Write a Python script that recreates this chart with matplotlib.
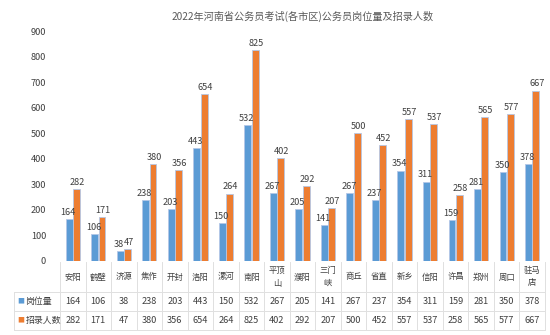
#!/usr/bin/env python3
# -*- coding: utf-8 -*-
"""2022年河南省公务员考试 各市区 岗位量 / 招录人数 (Excel 风格 + 数据表)"""

import numpy as np
import matplotlib
matplotlib.use("Agg")
import matplotlib.pyplot as plt
from matplotlib.transforms import blended_transform_factory

plt.rcParams["font.family"] = ["Noto Sans CJK SC", "DejaVu Sans"]

cities = ["安阳", "鹤壁", "济源", "焦作", "开封", "洛阳", "漯河", "南阳", "平顶\n山", "濮阳",
          "三门\n峡", "商丘", "省直", "新乡", "信阳", "许昌", "郑州", "周口", "驻马\n店"]
posts = [164, 106, 38, 238, 203, 443, 150, 532, 267, 205, 141, 267, 237, 354, 311, 159, 281, 350, 378]
hires = [282, 171, 47, 380, 356, 654, 264, 825, 402, 292, 207, 500, 452, 557, 537, 258, 565, 577, 667]
series_names = ["岗位量", "招录人数"]
yticks = list(range(0, 1000, 100))

BLUE = "#5B9BD5"
ORANGE = "#ED7D31"
EDGE = "#B4C7E7"
TXT = "#404040"
GRID = "#E0E0E0"

W, H = 550, 335
fig = plt.figure(figsize=(W / 100, H / 100), dpi=100)
left_px, right_px, top_px, bot_px = 60, 545, 31, 261
ax = fig.add_axes([left_px / W, 1 - bot_px / H, (right_px - left_px) / W, (bot_px - top_px) / H])

x = np.arange(len(cities))
bw = 0.27
ax.bar(x - bw / 2 - 0.01, posts, bw, color=BLUE, edgecolor=EDGE, linewidth=0.6)
ax.bar(x + bw / 2 + 0.01, hires, bw, color=ORANGE, edgecolor=EDGE, linewidth=0.6)

for xi, v in zip(x, posts):
    ax.text(xi - bw / 2 - 0.05, v + 8, str(v), ha="center", va="bottom", fontsize=6.6, color=TXT)
for xi, v in zip(x, hires):
    ax.text(xi + bw / 2 + 0.05, v + 8, str(v), ha="center", va="bottom", fontsize=6.6, color=TXT)

ax.set_xlim(-0.5, len(cities) - 0.5)
ax.set_ylim(0, 900)
ax.set_yticks(yticks)
ax.set_yticklabels([str(t) for t in yticks], fontsize=6.6, color=TXT)
ax.tick_params(axis="y", length=0, pad=10)
ax.set_xticks([])
for s in ax.spines.values():
    s.set_visible(False)

ax.set_title("2022年河南省公务员考试(各市区)公务员岗位量及招录人数",
             fontsize=7.3, color="#595959", pad=8)

# 数据表
tr = blended_transform_factory(ax.transData, ax.transAxes)
ph = bot_px - top_px


def ay(p):
    return (bot_px - p) / ph


y_top, y_r1, y_r2, y_bot = ay(262), ay(292), ay(311), ay(330)
x_lab = -0.5 + (14 - left_px) / ((right_px - left_px) / len(cities))
xe = len(cities) - 0.5

for k in range(len(cities) + 1):
    ax.plot([k - 0.5, k - 0.5], [y_top, y_bot], color=GRID, lw=0.7, transform=tr, clip_on=False)
ax.plot([x_lab, x_lab], [y_r1, y_bot], color=GRID, lw=0.7, transform=tr, clip_on=False)
for yy in (y_r1, y_r2, y_bot):
    ax.plot([x_lab, xe], [yy, yy], color=GRID, lw=0.7, transform=tr, clip_on=False)

for xi, c in zip(x, cities):
    ax.text(xi, (y_top + y_r1) / 2, c, ha="center", va="center", fontsize=6,
            color=TXT, transform=tr, linespacing=1.5)
for xi, a, b in zip(x, posts, hires):
    ax.text(xi, (y_r1 + y_r2) / 2, str(a), ha="center", va="center", fontsize=6.6, color=TXT, transform=tr)
    ax.text(xi, (y_r2 + y_bot) / 2, str(b), ha="center", va="center", fontsize=6.6, color=TXT, transform=tr)

for yy, col, name in (((y_r1 + y_r2) / 2, BLUE, series_names[0]), ((y_r2 + y_bot) / 2, ORANGE, series_names[1])):
    ax.text(x_lab + 0.12, yy, "■", ha="left", va="center", fontsize=5, color=col, transform=tr)
    ax.text(x_lab + 0.45, yy, name, ha="left", va="center", fontsize=6.4, color=TXT, transform=tr)

fig.savefig("out.png", dpi=100, facecolor="white")
